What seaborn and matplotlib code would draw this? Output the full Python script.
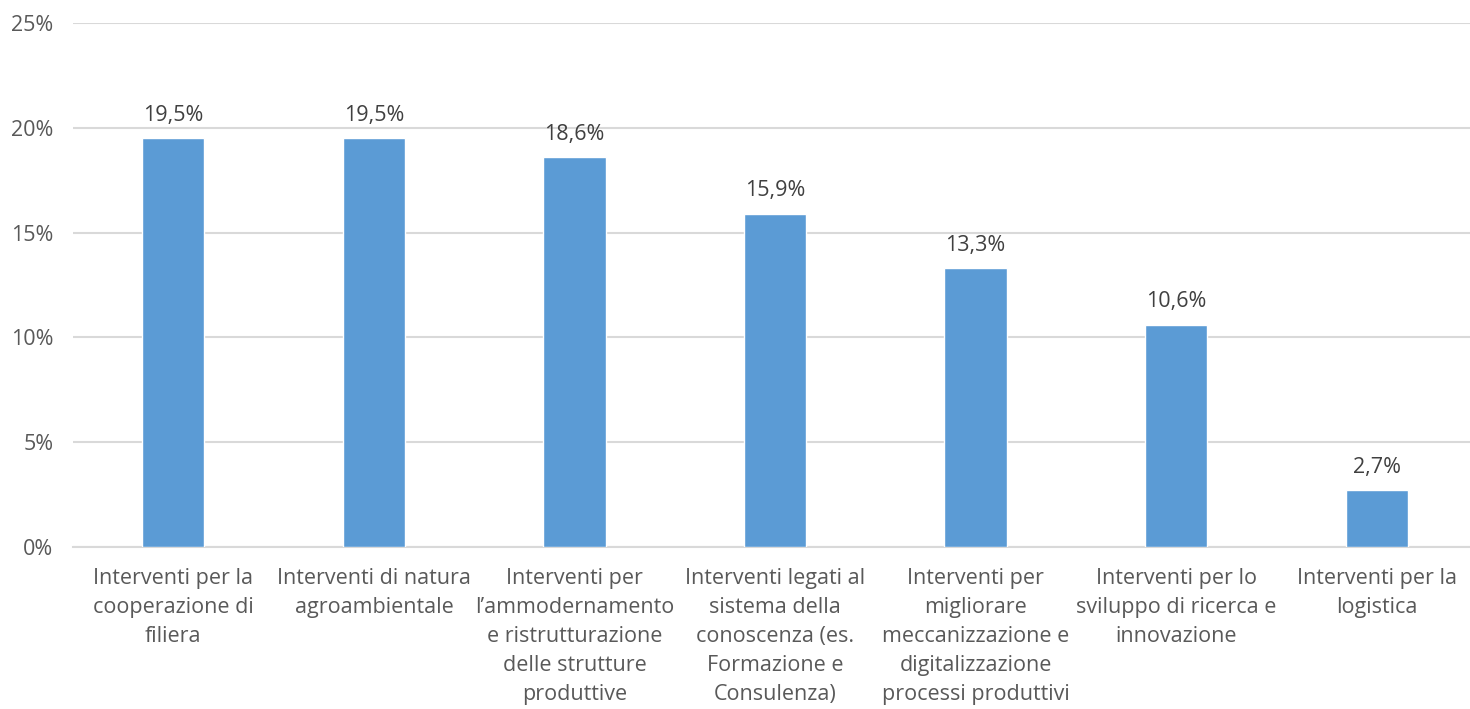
import matplotlib
matplotlib.use("Agg")
import matplotlib.pyplot as plt
import seaborn as sns
import pandas as pd

categories = [
    "Interventi per la\ncooperazione di\nfiliera",
    "Interventi di natura\nagroambientale",
    "Interventi per\nl\u2019ammodernamento\ne ristrutturazione\ndelle strutture\nproduttive",
    "Interventi legati al\nsistema della\nconoscenza (es.\nFormazione e\nConsulenza)",
    "Interventi per\nmigliorare\nmeccanizzazione e\ndigitalizzazione\nprocessi produttivi",
    "Interventi per lo\nsviluppo di ricerca e\ninnovazione",
    "Interventi per la\nlogistica",
]
values = [19.5, 19.5, 18.6, 15.9, 13.3, 10.6, 2.7]
y_ticks = [0, 5, 10, 15, 20, 25]

df = pd.DataFrame({"categoria": categories, "quota": values})

sns.set_theme(style="white")
plt.rcParams["font.family"] = ["Open Sans", "DejaVu Sans"]

fig = plt.figure(figsize=(14.7, 7.09), dpi=100)
ax = fig.add_axes([0.0497, 0.2285, 0.955, 0.7391])

sns.barplot(data=df, x="categoria", y="quota", color="#5B9BD5",
            saturation=1, width=0.31, ax=ax, zorder=3)

ax.set_ylim(0, 25)
ax.set_xlim(-0.5, len(categories) - 0.5)
ax.set_yticks(y_ticks)
ax.set_yticklabels([f"{t}%" for t in y_ticks], color="#595959", fontsize=15.5)
ax.tick_params(axis="y", length=0, pad=14)
ax.tick_params(axis="x", length=0, pad=15, labelsize=15.5, labelcolor="#595959")
for lbl in ax.get_xticklabels():
    lbl.set_linespacing(1.5)

ax.yaxis.grid(True, color="#D9D9D9", linewidth=1.5, zorder=0)
ax.set_axisbelow(True)
for side in ["top", "right", "left"]:
    ax.spines[side].set_visible(False)
ax.spines["bottom"].set_color("#D9D9D9")
ax.spines["bottom"].set_linewidth(1.5)
ax.set_xlabel("")
ax.set_ylabel("")

for i, v in enumerate(values):
    ax.annotate(f"{v:.1f}%".replace(".", ","), xy=(i, v), xytext=(0, 9),
                textcoords="offset points", ha="center", va="bottom",
                fontsize=15.5, color="#404040")

fig.savefig("out.png", dpi=100)
